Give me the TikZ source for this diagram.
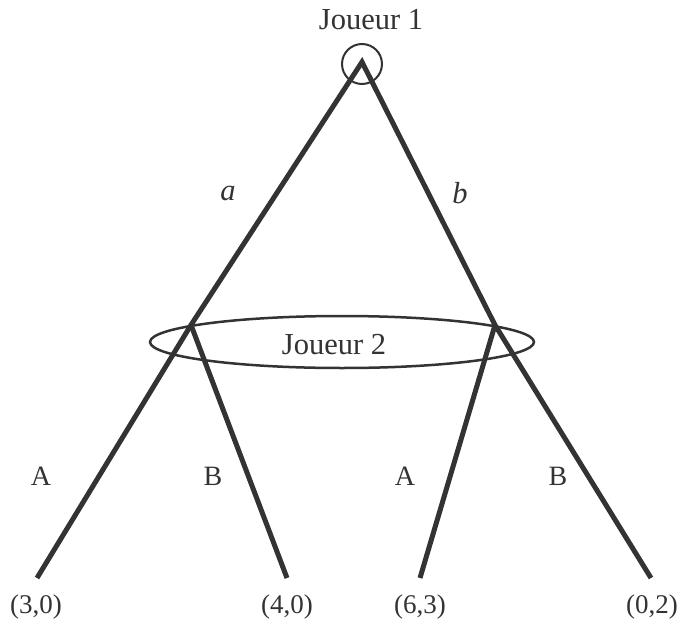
\documentclass[tikz,border=0pt]{standalone}
\usepackage{fontspec}
\setmainfont{Liberation Serif}
\usetikzlibrary{shapes.geometric}
\begin{document}
\begin{tikzpicture}[x=1pt,y=-1pt,
  edge/.style={draw=black!80, line width=5pt, line join=miter, line cap=butt},
  lbl/.style={text=black!80, font=\fontsize{30.5}{33}\selectfont, inner sep=0pt},
  mv/.style={text=black!80, font=\fontsize{28}{31}\selectfont, inner sep=0pt},
  pay/.style={text=black!80, font=\fontsize{27}{30}\selectfont, inner sep=0pt}]
\useasboundingbox (0,0) rectangle (678,624);
\coordinate (r) at (362,62);
\coordinate (L) at (191,325);
\coordinate (R) at (495,325);
\coordinate (l1) at (37,578);
\coordinate (l2) at (287,578);
\coordinate (l3) at (420,578);
\coordinate (l4) at (651,578);
\node[draw=black!80, line width=2pt, circle, minimum size=40pt, inner sep=0pt] (rc) at (362,64) {};
\node[draw=black!80, line width=2.5pt, ellipse, minimum width=384pt, minimum height=52pt, inner sep=0pt] (info) at (342,342) {};
\draw[edge] (l1) -- (L) -- (r) -- (R) -- (l4);
\draw[edge] (L) -- (l2);
\draw[edge] (R) -- (l3);
\node[lbl] (j1) at (371,20) {Joueur 1};
\node[lbl] (j2) at (334,345) {Joueur 2};
\node[lbl] (a) at (228,193) {\itshape a};
\node[lbl] (b) at (460,193) {\itshape b};
\node[mv] (A1) at (41,476) {A};
\node[mv] (B1) at (213,476) {B};
\node[mv] (A2) at (405,476) {A};
\node[mv] (B2) at (558,476) {B};
\node[pay] (p1) at (36,607) {(3,0)};
\node[pay] (p2) at (287,607) {(4,0)};
\node[pay] (p3) at (420,607) {(6,3)};
\node[pay] (p4) at (652,607) {(0,2)};
\end{tikzpicture}
\end{document}
